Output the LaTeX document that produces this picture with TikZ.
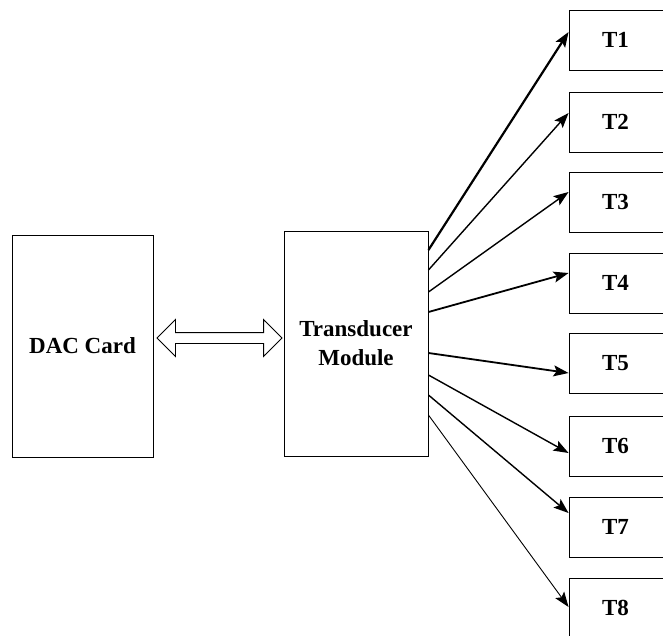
\documentclass[tikz,border=0pt]{standalone}
\usepackage{fontspec}
\setmainfont{Liberation Serif}
\usetikzlibrary{arrows.meta,shapes.arrows}
\begin{document}
\begin{tikzpicture}[x=1pt,y=-1pt,
  blockbox/.style={draw, line width=0.9pt, inner sep=0pt, align=center,
    font=\bfseries\fontsize{23}{29}\selectfont},
  tbox/.style={blockbox, align=left, text width=64pt, inner xsep=33pt,
    minimum height=60pt},
  feed/.style={-{Stealth[length=15pt,width=11pt,inset=3pt]}, line width=1.4pt}]
\useasboundingbox (0,0) rectangle (663,635);
\clip (0,0) rectangle (663,635);

% The two main blocks
\node[blockbox, minimum width=141pt, minimum height=222pt] (dac) at (82.5, 346) {DAC Card};
\node[blockbox, minimum width=144pt, minimum height=225pt] (tm) at (356, 343.5) {Transducer\\Module};

% Two-way link between them
\node[double arrow, draw, line width=0.9pt, inner sep=5pt, minimum height=125pt,
  double arrow head extend=13pt] (link) at (219.5, 338) {};

% The transducers, cut off at the right edge
\node[tbox] (t1) at (634, 40) {T1};
\node[tbox] (t2) at (634, 122) {T2};
\node[tbox] (t3) at (634, 202) {T3};
\node[tbox] (t4) at (634, 283) {T4};
\node[tbox] (t5) at (634, 363) {T5};
\node[tbox] (t6) at (634, 446) {T6};
\node[tbox] (t7) at (634, 527) {T7};
\node[tbox] (t8) at (634, 608) {T8};

% Feed lines from the module
\draw[feed, line width=2.2pt] (tm.east |- 0,250) -- (t1.west |- 0,32);
\draw[feed] (tm.east |- 0,270) -- (t2.west |- 0,113);
\draw[feed] (tm.east |- 0,292) -- (t3.west |- 0,192);
\draw[feed, line width=1.8pt] (tm.east |- 0,312) -- (t4.west |- 0,273);
\draw[feed, line width=1.8pt] (tm.east |- 0,353) -- (t5.west |- 0,373);
\draw[feed] (tm.east |- 0,375) -- (t6.west |- 0,453);
\draw[feed] (tm.east |- 0,395) -- (t7.west |- 0,513);
\draw[feed, line width=0.9pt] (tm.east |- 0,415) -- (t8.west |- 0,607);
\end{tikzpicture}
\end{document}
